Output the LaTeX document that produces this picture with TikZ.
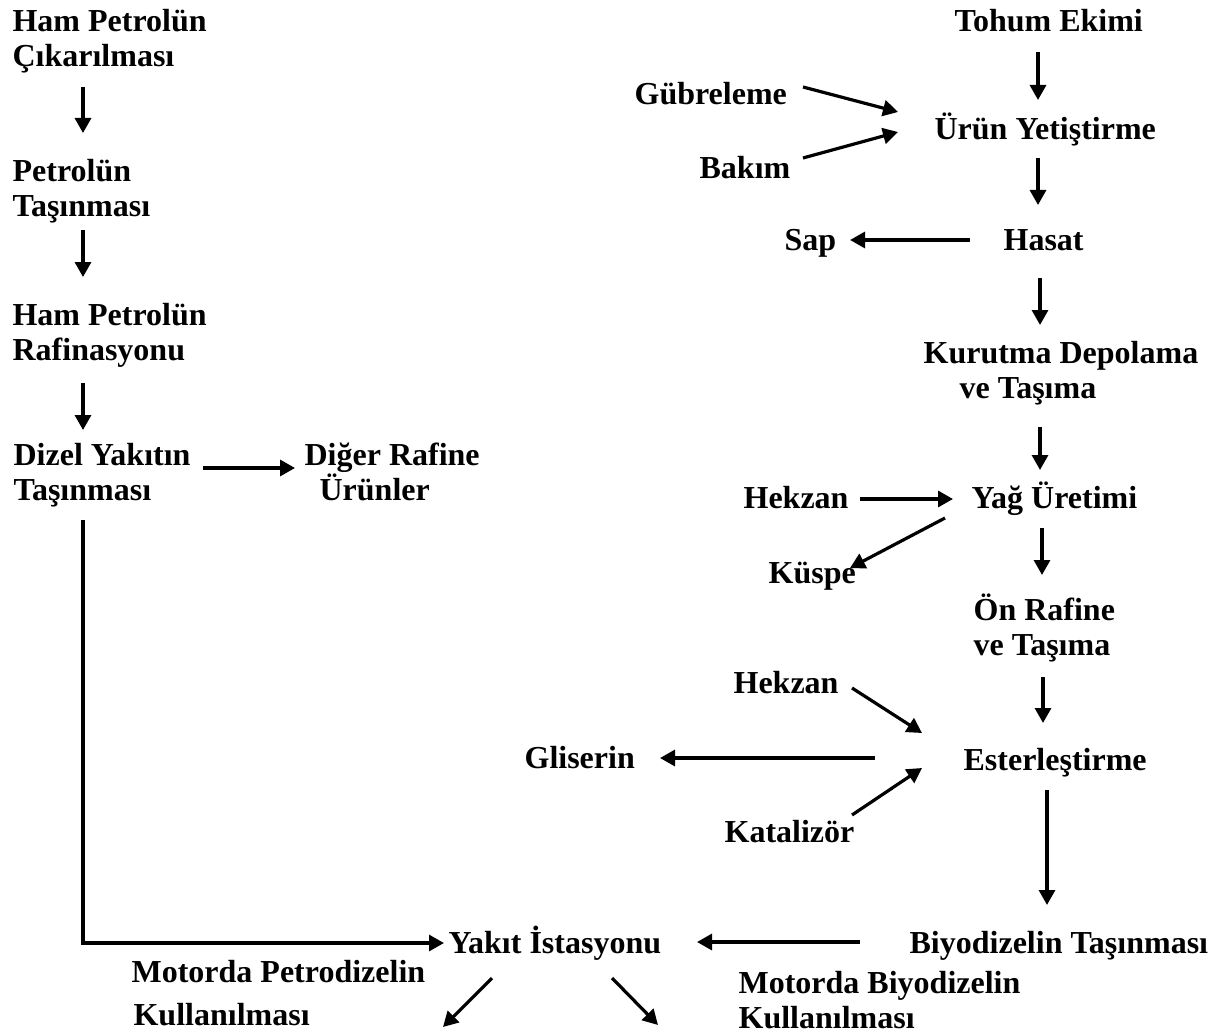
\documentclass[tikz,border=0pt]{standalone}
\usepackage{fontspec}
\setmainfont{Liberation Serif}
\usetikzlibrary{arrows.meta}

\begin{document}
\begin{tikzpicture}[->,>={Triangle[length=7.5pt,width=8pt]},line width=1.6pt,
                    x=0.5pt,y=-0.5pt]
  \tikzstyle{every node}=[font=\bfseries\fontsize{16}{17.5}\selectfont,
                          align=left,inner sep=0pt,anchor=base west]
  \useasboundingbox (0,0) rectangle (1224,1032);

  % petrodizel
  \node (ham)   at (11,67)   {Ham Petrolün\\Çıkarılması};
  \node (pet)   at (11,217)  {Petrolün\\Taşınması};
  \node (raf)   at (11,360)  {Ham Petrolün\\Rafinasyonu};
  \node (diz)   at (12,500)  {Dizel Yakıtın\\Taşınması};
  \node (dig)   at (303,500) {Diğer Rafine\\\hspace*{7.5pt}Ürünler};

  % biyodizel
  \node (tohum) at (953,32)  {Tohum Ekimi};
  \node (urun)  at (933,140) {Ürün Yetiştirme};
  \node (gub)   at (633,105) {Gübreleme};
  \node (bak)   at (698,178) {Bakım};
  \node (hasat) at (1002,250) {Hasat};
  \node (sap)   at (783,250) {Sap};
  \node (kur)   at (922,398) {Kurutma Depolama\\\hspace*{18pt}ve Taşıma};
  \node (yag)   at (970,508) {Yağ Üretimi};
  \node (hek1)  at (742,508) {Hekzan};
  \node (kus)   at (767,583) {Küspe};
  \node (on)    at (972,655) {Ön Rafine\\ve Taşıma};
  \node (est)   at (962,770) {Esterleştirme};
  \node (hek2)  at (732,693) {Hekzan};
  \node (gli)   at (523,768) {Gliserin};
  \node (kat)   at (723,842) {Katalizör};
  \node (biyo)  at (908,953) {Biyodizelin Taşınması};

  % kullanim
  \node (yakit) at (447,953) {Yakıt İstasyonu};
  \node (motp)  at (130,1025) {Motorda Petrodizelin\\[4pt]\hspace*{1pt}Kullanılması};
  \node (motb)  at (737,1028) {Motorda Biyodizelin\\Kullanılması};

  \draw ([shift={(72,20)}]ham.base west) -- ([shift={(72,-84)}]pet.base west);
  \draw ([shift={(72,13)}]pet.base west) -- ([shift={(72,-83)}]raf.base west);
  \draw ([shift={(72,23)}]raf.base west) -- ([shift={(71,-70)}]diz.base west);
  \draw ([shift={(191,-32)}]diz.base west) -- ([shift={(-8,-32)}]dig.base west);
  \draw ([shift={(71,20)}]diz.base west) |- ([shift={(-3,-10)}]yakit.base west);

  \draw ([shift={(85,20)}]tohum.base west) -- ([shift={(105,-40)}]urun.base west);
  \draw ([shift={(170,-18)}]gub.base west) -- ([shift={(-35,-28)}]urun.base west);
  \draw ([shift={(105,-20)}]bak.base west) -- ([shift={(-35,-8)}]urun.base west);
  \draw ([shift={(105,18)}]urun.base west) -- ([shift={(36,-45)}]hasat.base west);
  \draw ([shift={(-32,-10)}]hasat.base west) -- ([shift={(67,-10)}]sap.base west);
  \draw ([shift={(38,28)}]hasat.base west) -- ([shift={(118,-73)}]kur.base west);
  \draw ([shift={(118,29)}]kur.base west) -- ([shift={(70,-38)}]yag.base west);
  \draw ([shift={(118,-9)}]hek1.base west) -- ([shift={(-17,-9)}]yag.base west);
  \draw ([shift={(-25,10)}]yag.base west) -- ([shift={(83,-15)}]kus.base west);
  \draw ([shift={(72,20)}]yag.base west) -- ([shift={(70,-80)}]on.base west);
  \draw ([shift={(71,22)}]on.base west) -- ([shift={(81,-47)}]est.base west);
  \draw ([shift={(120,-5)}]hek2.base west) -- ([shift={(-40,-37)}]est.base west);
  \draw ([shift={(-87,-12)}]est.base west) -- ([shift={(137,-10)}]gli.base west);
  \draw ([shift={(129,-27)}]kat.base west) -- ([shift={(-40,-2)}]est.base west);
  \draw ([shift={(85,20)}]est.base west) -- ([shift={(139,-48)}]biyo.base west);
  \draw ([shift={(-48,-11)}]biyo.base west) -- ([shift={(250,-11)}]yakit.base west);
  \draw ([shift={(45,25)}]yakit.base west) -- ([shift={(313,2)}]motp.base west);
  \draw ([shift={(165,25)}]yakit.base west) -- ([shift={(-79,-3)}]motb.base west);
\end{tikzpicture}
\end{document}
